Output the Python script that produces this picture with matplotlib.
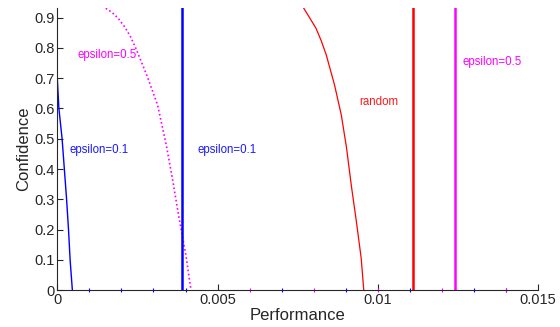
import matplotlib
matplotlib.use("Agg")
import matplotlib.pyplot as plt

plt.rcParams['font.family'] = ['Liberation Sans', 'DejaVu Sans']

# Data
blue_x = [0.0, 0.0, 0.00005, 0.00015, 0.00022, 0.00029, 0.00035, 0.00040, 0.00047]
blue_y = [0.935, 0.70, 0.60, 0.50, 0.40, 0.30, 0.20, 0.10, 0.0]

mag_x = [0.00151, 0.0017, 0.0019, 0.0021, 0.00228, 0.00245, 0.00281, 0.00313, 0.0034,
         0.00359, 0.0038, 0.00401, 0.00417]
mag_y = [0.931, 0.918, 0.898, 0.870, 0.838, 0.799, 0.705, 0.611, 0.479,
         0.369, 0.237, 0.116, 0.0]

red_x = [0.00769, 0.00787, 0.00807, 0.00824, 0.00839, 0.00865, 0.00886, 0.00902,
         0.00917, 0.00933, 0.00948, 0.00956]
red_y = [0.931, 0.900, 0.865, 0.822, 0.777, 0.677, 0.578, 0.472,
         0.347, 0.226, 0.105, 0.0]

vline_blue = 0.00389
vline_red = 0.01109
vline_mag = 0.01242

minor_blue = [0.001, 0.002, 0.003, 0.004, 0.007, 0.009, 0.011, 0.013, 0.014]
minor_mag = [0.006, 0.008, 0.010, 0.012, 0.014]

labels = [
    ("epsilon=0.5", 0.00062, 0.777, '#ff00ff'),
    ("epsilon=0.1", 0.00037, 0.463, '#1a1aff'),
    ("epsilon=0.1", 0.00437, 0.463, '#1a1aff'),
    ("random", 0.00943, 0.621, '#ff1a1a'),
    ("epsilon=0.5", 0.01264, 0.753, '#ff00ff'),
]

xticks = [0, 0.005, 0.01, 0.015]
xticklabels = ['0', '0.005', '0.01', '0.015']
yticks = [0, 0.1, 0.2, 0.3, 0.4, 0.5, 0.6, 0.7, 0.8, 0.9]
yticklabels = ['0', '0.1', '0.2', '0.3', '0.4', '0.5', '0.6', '0.7', '0.8', '0.9']

fig = plt.figure(figsize=(5.6, 3.27), dpi=100)
ax = fig.add_axes([0.1023, 0.113, 0.8587, 0.8625])

ax.plot(blue_x, blue_y, color='#0000ff', lw=1.0, solid_joinstyle='round')
ax.plot(mag_x, mag_y, color='#ff00ff', lw=1.2, ls=(0, (1, 1.5)))
ax.plot(red_x, red_y, color='#ff0000', lw=0.9, solid_joinstyle='round')
ax.axvline(vline_blue, color='#0000ff', lw=1.8)
ax.axvline(vline_red, color='#ff0000', lw=1.8)
ax.axvline(vline_mag, color='#ff00ff', lw=1.8)

ax.plot(minor_blue, [0] * len(minor_blue), ls='none', marker='|', ms=3, mew=0.8, color='#0000ff', clip_on=False)
ax.plot(minor_mag, [0] * len(minor_mag), ls='none', marker='|', ms=3, mew=0.8, color='#ff00ff', clip_on=False)

for txt, x, y, c in labels:
    ax.text(x, y, txt, color=c, fontsize=8.3, ha='left', va='center')

ax.set_xlim(0, 0.015)
ax.set_ylim(0, 0.932)
ax.set_xticks(xticks)
ax.set_xticklabels(xticklabels)
ax.set_yticks(yticks)
ax.set_yticklabels(yticklabels)
ax.tick_params(direction='in', length=4, width=0.8, colors='#262626', labelsize=10.5, pad=2)
for s in ['top', 'right']:
    ax.spines[s].set_visible(False)
for s in ['left', 'bottom']:
    ax.spines[s].set_color('#262626')
    ax.spines[s].set_linewidth(0.8)

ax.set_xlabel('Performance', fontsize=12, color='#262626', labelpad=1)
ax.set_ylabel('Confidence', fontsize=12, color='#262626', labelpad=2)

fig.savefig('out.png', dpi=100)
